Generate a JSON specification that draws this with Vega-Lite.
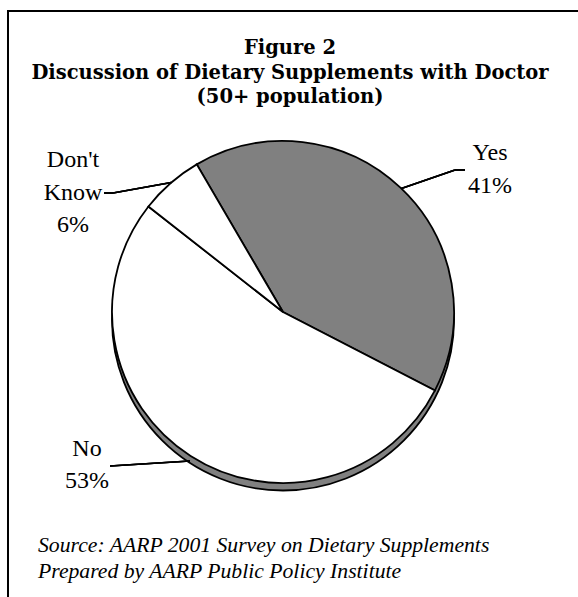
{
  "$schema": "https://vega.github.io/schema/vega-lite/v6.json",
  "width": 578,
  "height": 597,
  "padding": 0,
  "autosize": {"type": "none"},
  "background": "#ffffff",
  "config": {"view": {"stroke": null}},
  "data": {
    "values": [
      {"answer": "Yes", "percent": 41},
      {"answer": "No", "percent": 53},
      {"answer": "Don't Know", "percent": 6}
    ]
  },
  "transform": [
    {"calculate": "indexof(['Yes', 'No', \"Don't Know\"], datum.answer)", "as": "slice_order"},
    {"calculate": "replace(datum.answer, ' ', '\\n') + '\\n' + datum.percent + '%'", "as": "label"}
  ],
  "layer": [
    {
      "data": {"values": [{"frame": "box"}]},
      "mark": {"type": "rect", "fillOpacity": 0, "stroke": "#000000", "strokeWidth": 2},
      "encoding": {
        "x": {"datum": -1.6082, "type": "quantitative", "axis": null, "scale": {"domain": [-1.65497, 1.72515], "nice": false, "zero": false}},
        "x2": {"datum": 1.7953},
        "y": {"datum": 1.76023, "type": "quantitative", "axis": null, "scale": {"domain": [-1.66667, 1.82456], "nice": false, "zero": false}},
        "y2": {"datum": -1.7427}
      }
    },
    {
      "data": {"values": [{"frame": "rim"}]},
      "mark": {"type": "arc", "outerRadius": 171, "theta": 0, "theta2": 6.2832, "fill": "#808080", "stroke": "#000000", "strokeWidth": 1.8},
      "encoding": {
        "x": {"datum": 0, "type": "quantitative"},
        "y": {"datum": -0.04386, "type": "quantitative"}
      }
    },
    {
      "mark": {"type": "arc", "outerRadius": 171, "stroke": "#000000", "strokeWidth": 1.8},
      "encoding": {
        "x": {"datum": 0, "type": "quantitative"},
        "y": {"datum": 0, "type": "quantitative"},
        "theta": {"field": "percent", "type": "quantitative", "stack": true, "scale": {"domain": [0, 100], "range": [-0.5288, 5.7544]}},
        "order": {"field": "slice_order", "type": "quantitative"},
        "color": {"field": "answer", "type": "nominal", "legend": null, "scale": {"domain": ["Yes", "No", "Don't Know"], "range": ["#808080", "#ffffff", "#ffffff"]}}
      }
    },
    {
      "mark": {"type": "rule", "stroke": "#000000", "strokeWidth": 1.6},
      "encoding": {
        "x": {"datum": 0.6921, "type": "quantitative"},
        "y": {"datum": 0.7217, "type": "quantitative"},
        "x2": {"datum": 1.0058},
        "y2": {"datum": 0.8304}
      }
    },
    {
      "mark": {"type": "rule", "stroke": "#000000", "strokeWidth": 1.6},
      "encoding": {
        "x": {"datum": 1.0058, "type": "quantitative"},
        "y": {"datum": 0.8304, "type": "quantitative"},
        "x2": {"datum": 1.0643},
        "y2": {"datum": 0.8304}
      }
    },
    {
      "mark": {"type": "rule", "stroke": "#000000", "strokeWidth": 1.6},
      "encoding": {
        "x": {"datum": -0.6534, "type": "quantitative"},
        "y": {"datum": 0.757, "type": "quantitative"},
        "x2": {"datum": -0.9942},
        "y2": {"datum": 0.6959}
      }
    },
    {
      "mark": {"type": "rule", "stroke": "#000000", "strokeWidth": 1.6},
      "encoding": {
        "x": {"datum": -0.9942, "type": "quantitative"},
        "y": {"datum": 0.6959, "type": "quantitative"},
        "x2": {"datum": -1.0468},
        "y2": {"datum": 0.6959}
      }
    },
    {
      "mark": {"type": "rule", "stroke": "#000000", "strokeWidth": 1.6},
      "encoding": {
        "x": {"datum": -0.5439, "type": "quantitative"},
        "y": {"datum": -0.8713, "type": "quantitative"},
        "x2": {"datum": -1.0117},
        "y2": {"datum": -0.9006}
      }
    },
    {
      "transform": [{"filter": "datum.answer === 'Yes'"}],
      "mark": {"type": "text", "font": "Liberation Serif", "fontSize": 24, "lineHeight": 33, "lineBreak": "\n", "align": "center", "baseline": "alphabetic", "color": "#000000"},
      "encoding": {
        "x": {"datum": 1.21053, "type": "quantitative"},
        "y": {"datum": 0.88889, "type": "quantitative"},
        "text": {"field": "label"}
      }
    },
    {
      "transform": [{"filter": "datum.answer === \"Don't Know\""}],
      "mark": {"type": "text", "font": "Liberation Serif", "fontSize": 24, "lineHeight": 32.5, "lineBreak": "\n", "align": "center", "baseline": "alphabetic", "color": "#000000"},
      "encoding": {
        "x": {"datum": -1.22807, "type": "quantitative"},
        "y": {"datum": 0.84795, "type": "quantitative"},
        "text": {"field": "label"}
      }
    },
    {
      "transform": [{"filter": "datum.answer === 'No'"}],
      "mark": {"type": "text", "font": "Liberation Serif", "fontSize": 24, "lineHeight": 32, "lineBreak": "\n", "align": "center", "baseline": "alphabetic", "color": "#000000"},
      "encoding": {
        "x": {"datum": -1.1462, "type": "quantitative"},
        "y": {"datum": -0.84211, "type": "quantitative"},
        "text": {"field": "label"}
      }
    },
    {
      "data": {"values": [{"frame": "heading"}]},
      "mark": {"type": "text", "font": "DejaVu Serif", "fontWeight": "bold", "fontSize": 19.5, "lineHeight": 24.5, "align": "center", "baseline": "alphabetic", "color": "#000000",
        "text": ["Figure 2", "Discussion of Dietary Supplements with Doctor", "(50+ population)"]},
      "encoding": {
        "x": {"datum": 0.04094, "type": "quantitative"},
        "y": {"datum": 1.50877, "type": "quantitative"}
      }
    },
    {
      "data": {"values": [{"frame": "source"}]},
      "mark": {"type": "text", "font": "Liberation Serif", "fontStyle": "italic", "fontSize": 21.7, "lineHeight": 26, "align": "left", "baseline": "alphabetic", "color": "#000000",
        "text": ["Source: AARP 2001 Survey on Dietary Supplements", "Prepared by AARP Public Policy Institute"]},
      "encoding": {
        "x": {"datum": -1.43275, "type": "quantitative"},
        "y": {"datum": -1.40351, "type": "quantitative"}
      }
    }
  ]
}
